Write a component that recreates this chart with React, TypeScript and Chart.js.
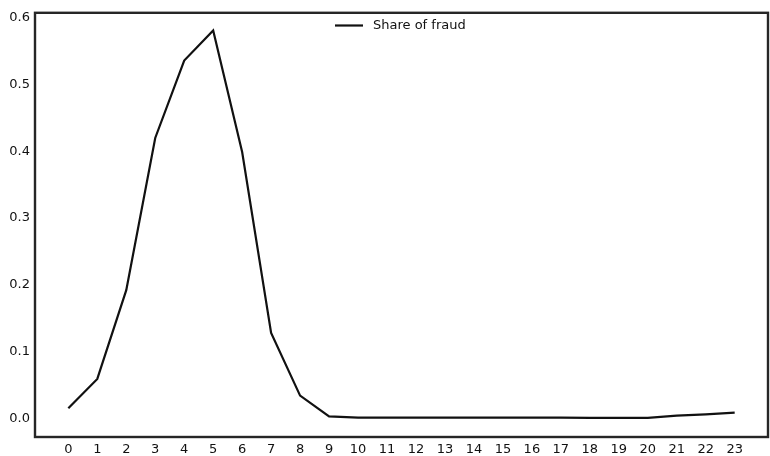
import React, { useEffect, useRef } from "react";
import { Chart, registerables } from "chart.js";

Chart.register(...registerables);

const hours = [0, 1, 2, 3, 4, 5, 6, 7, 8, 9, 10, 11, 12, 13, 14, 15, 16, 17, 18, 19, 20, 21, 22, 23];
const shareOfFraud = [
  0.015, 0.059, 0.192, 0.42, 0.536, 0.581, 0.399, 0.128, 0.034, 0.003,
  0.001, 0.001, 0.001, 0.001, 0.001, 0.001, 0.001, 0.001, 0.0008, 0.0006,
  0.0006, 0.004, 0.006, 0.0085,
];
const yTickValues = [0, 0.1, 0.2, 0.3, 0.4, 0.5, 0.6];
const seriesLabel = "Share of fraud";

const FONT = "'DejaVu Sans', sans-serif";
const INK = "#111111";

const framePlugin = {
  id: "frame",
  afterDraw(chart: any) {
    const { ctx, chartArea } = chart;
    ctx.save();
    ctx.strokeStyle = "#262626";
    ctx.lineWidth = 2.4;
    ctx.strokeRect(chartArea.left, chartArea.top, chartArea.right - chartArea.left, chartArea.bottom - chartArea.top);
    ctx.restore();
  },
};

const legendPlugin = {
  id: "innerLegend",
  afterDraw(chart: any) {
    const { ctx } = chart;
    const ds = chart.data.datasets[0];
    ctx.save();
    ctx.strokeStyle = INK;
    ctx.lineWidth = 2.2;
    ctx.beginPath();
    ctx.moveTo(335, 25.5);
    ctx.lineTo(363, 25.5);
    ctx.stroke();
    ctx.fillStyle = INK;
    ctx.font = `13px ${FONT}`;
    ctx.textBaseline = "middle";
    ctx.textAlign = "left";
    ctx.fillText(ds.label, 373, 26);
    ctx.restore();
  },
};

export default function App() {
  const ref = useRef<HTMLCanvasElement>(null);
  useEffect(() => {
    if (!ref.current) return;
    const chart = new Chart(ref.current, {
      type: "line",
      data: {
        datasets: [
          {
            label: seriesLabel,
            data: hours.map((h, i) => ({ x: h, y: shareOfFraud[i] })),
            borderColor: INK,
            borderWidth: 2.2,
            pointRadius: 0,
            tension: 0,
            fill: false,
          },
        ],
      },
      options: {
        responsive: false,
        animation: false,
        layout: { padding: { top: 10, right: 2, left: 0, bottom: 0 } },
        plugins: { legend: { display: false }, tooltip: { enabled: false } },
        scales: {
          x: {
            type: "linear",
            min: -1.15,
            max: 24.15,
            grid: { display: false, drawTicks: false },
            border: { display: false },
            afterBuildTicks: (s: any) => {
              s.ticks = hours.map((v) => ({ value: v }));
            },
            afterFit: (s: any) => {
              s.height = 19;
            },
            ticks: {
              padding: 5,
              autoSkip: false,
              maxRotation: 0,
              color: INK,
              font: { family: FONT, size: 13 },
              callback: (v: any) => String(v),
            },
          },
          y: {
            type: "linear",
            min: -0.028,
            max: 0.6075,
            grid: { display: false, drawTicks: false },
            border: { display: false },
            afterBuildTicks: (s: any) => {
              s.ticks = yTickValues.map((v) => ({ value: v }));
            },
            afterFit: (s: any) => {
              s.width = 35;
            },
            ticks: {
              padding: 5,
              color: INK,
              font: { family: FONT, size: 13 },
              callback: (v: any) => Number(v).toFixed(1),
            },
          },
        },
      },
      plugins: [framePlugin, legendPlugin],
    });
    return () => chart.destroy();
  }, []);
  return (
    <div style={{ position: "fixed", left: 0, top: 0, width: 770, height: 456, background: "#fff" }}>
      <canvas ref={ref} width={770} height={456} style={{ display: "block" }} />
    </div>
  );
}
